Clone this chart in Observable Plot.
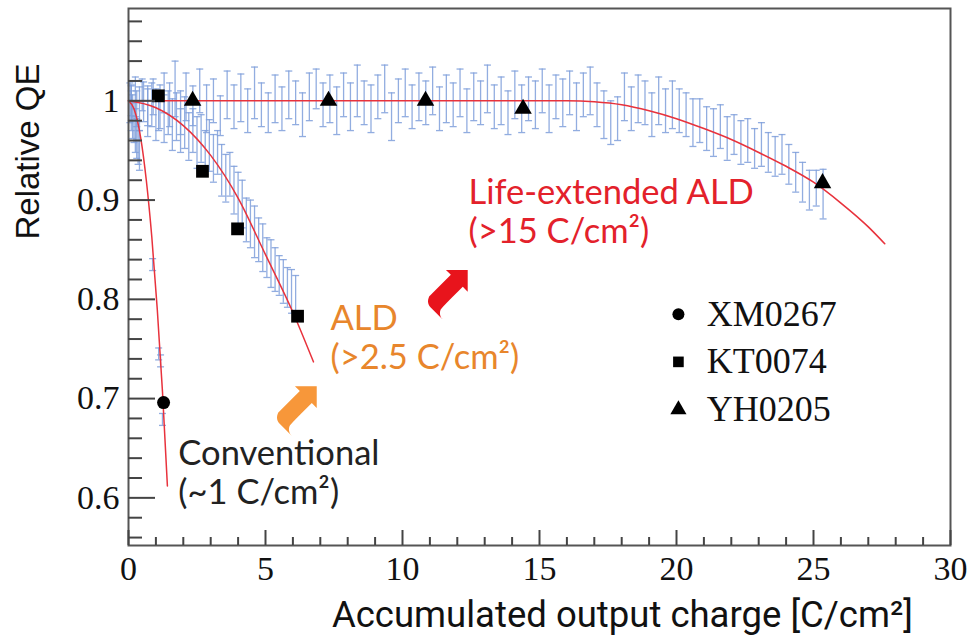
<!DOCTYPE html>
<html><head><meta charset="utf-8">
<script src="https://cdn.jsdelivr.net/npm/d3@7"></script>
<script src="https://cdn.jsdelivr.net/npm/@observablehq/plot@0.6"></script>
<style>body{margin:0;background:#fff} svg{display:block}</style>
</head><body><div id="chart"></div>
<script>
const yhX = [0.10,0.30,0.50,0.70,0.90,1.10,1.30,1.50,1.70,1.90,2.10,2.35,2.60,2.85,3.10,3.35,3.60,3.85,4.10,4.35,4.60,4.85,5.10,5.35,5.60,5.85,6.10,6.35,6.60,6.85,7.10,7.35,7.60,7.85,8.10,8.35,8.60,8.85,9.10,9.35,9.60,9.85,10.10,10.35,10.60,10.85,11.10,11.35,11.60,11.85,12.10,12.35,12.60,12.85,13.10,13.35,13.60,13.85,14.10,14.35,14.60,14.85,15.10,15.35,15.60,15.85,16.10,16.35,16.60,16.85,17.10,17.35,17.60,17.85,18.10,18.35,18.60,18.85,19.10,19.35,19.60,19.85,20.10,20.35,20.60,20.85,21.10,21.35,21.60,21.85,22.10,22.35,22.60,22.85,23.10,23.35,23.60,23.85,24.10,24.35,24.60,24.85,25.10,25.35];
const yhY = [1.000,0.992,1.006,0.995,1.004,0.990,1.008,0.996,1.012,0.988,1.004,0.995,1.010,0.992,1.000,0.985,1.006,0.994,1.003,0.990,1.008,0.996,0.988,1.002,0.992,1.006,0.998,0.986,1.004,1.012,0.996,1.002,0.990,1.006,0.994,1.010,0.998,0.992,1.004,1.012,0.984,1.000,1.008,0.994,1.004,0.998,1.010,0.992,1.002,0.996,1.008,0.990,1.004,0.998,1.012,0.994,1.000,0.988,1.006,0.992,1.002,0.996,1.010,0.992,1.004,0.998,1.008,0.994,1.006,1.010,0.996,0.986,0.978,0.982,1.004,0.992,1.002,0.998,0.986,1.000,0.990,0.996,0.990,0.986,0.978,0.980,0.972,0.968,0.974,0.962,0.966,0.958,0.960,0.952,0.956,0.948,0.944,0.946,0.936,0.928,0.918,0.910,0.912,0.906];
const yhE = [0.015,0.018,0.016,0.020,0.018,0.020,0.020,0.022,0.028,0.022,0.024,0.020,0.022,0.024,0.022,0.020,0.024,0.022,0.024,0.022,0.026,0.022,0.020,0.024,0.022,0.024,0.022,0.022,0.024,0.020,0.022,0.024,0.024,0.022,0.024,0.026,0.022,0.024,0.022,0.024,0.024,0.022,0.024,0.022,0.024,0.022,0.024,0.022,0.024,0.022,0.024,0.022,0.024,0.022,0.024,0.022,0.024,0.022,0.024,0.024,0.022,0.024,0.022,0.024,0.022,0.024,0.022,0.024,0.022,0.024,0.022,0.024,0.022,0.022,0.024,0.022,0.024,0.022,0.022,0.024,0.022,0.024,0.022,0.022,0.024,0.022,0.022,0.024,0.022,0.022,0.020,0.022,0.022,0.020,0.022,0.020,0.020,0.020,0.020,0.020,0.020,0.020,0.018,0.025];

const ktX = [0.10,0.25,0.40,0.55,0.70,0.85,1.00,1.15,1.30,1.45,1.60,1.75,1.90,2.05,2.20,2.35,2.50,2.65,2.80,2.95,3.10,3.25,3.40,3.55,3.70,3.85,4.00,4.15,4.30,4.45,4.60,4.75,4.90,5.05,5.20,5.35,5.50,5.65,5.80,5.95,6.10];
const ktY = [0.998,1.004,0.992,0.999,0.988,0.996,0.986,0.994,0.982,0.988,0.976,0.984,0.970,0.978,0.964,0.970,0.958,0.962,0.948,0.955,0.942,0.948,0.930,0.922,0.926,0.910,0.902,0.896,0.880,0.876,0.868,0.860,0.852,0.842,0.836,0.830,0.824,0.818,0.812,0.808,0.804];
const ktE = [0.018,0.020,0.022,0.020,0.024,0.022,0.026,0.022,0.024,0.022,0.026,0.024,0.022,0.026,0.024,0.022,0.026,0.024,0.022,0.026,0.024,0.022,0.026,0.024,0.022,0.024,0.026,0.024,0.022,0.024,0.026,0.022,0.024,0.020,0.024,0.022,0.020,0.022,0.020,0.022,0.020];

const xmX = [0.05,0.10,0.15,0.20,0.25,0.30,0.35,0.40,0.88,1.10,1.17,1.24];
const xmY = [0.998,0.990,0.984,0.978,0.970,0.962,0.958,0.950,0.835,0.745,0.738,0.679];
const xmE = [0.020,0.020,0.022,0.020,0.022,0.020,0.022,0.020,0.006,0.006,0.006,0.006];

// ---- fit curves ----
const convX = [0,0.2,0.45,0.65,0.85,1.05,1.24,1.42];
const convY = [1,0.992,0.962,0.92,0.863,0.79,0.707,0.612];
const aldX = [0,1,2,3,4,5,6,6.75];
const aldY = [1,0.993,0.975,0.945,0.902,0.845,0.787,0.737];
const lifeX = [0,16,17,18,19,20,21,22,23,24,25,26,27,27.6];
const lifeY = [1,1,0.999,0.996,0.99,0.982,0.972,0.961,0.948,0.934,0.918,0.897,0.873,0.856];

// ---- sample markers ----
const xmMarkX = [1.28], xmMarkY = [0.696];
const ktMarkX = [1.09,2.70,3.98,6.17], ktMarkY = [1.005,0.929,0.871,0.783];
const yhMarkX = [2.34,7.30,10.84,14.40,25.33], yhMarkY = [1.000,1.000,1.000,0.992,0.917];

// ---- legend ----
const legendNames = ["XM0267","KT0074","YH0205"];
const legendSymbols = ["circle","square","triangle"];
const legendX = [20.07,20.07,20.07];
const legendY = [0.785,0.737,0.689];
const legendTextX = [21.1,21.1,21.1];

// ---- annotations ----
const notes = ["Conventional\n(~1 C/cm²)","ALD\n(>2.5 C/cm²)","Life-extended ALD\n(>15 C/cm²)"];
const noteX = [1.82,7.37,12.41];
const noteY = [0.626,0.762,0.889];
const noteColors = ["#222222","#e8862c","#e3212b"];
const arrowX = [6.17,11.68];
const arrowY = [0.694,0.811];
const arrowColors = ["#f7973a","#e8141c"];

// ---- axis ticks ----
const xMajor = [0,5,10,15,20,25,30];
const xMinor = [1,2,3,4,6,7,8,9,11,12,13,14,16,17,18,19,21,22,23,24,26,27,28,29];
const yMajor = [0.6,0.7,0.8,0.9,1.0];
const yMinor = [0.56,0.58,0.62,0.64,0.66,0.68,0.72,0.74,0.76,0.78,0.82,0.84,0.86,0.88,0.92,0.94,0.96,0.98,1.02,1.04,1.06,1.08];

const xTitle = "Accumulated output charge [C/cm²]";
const yTitle = "Relative QE";

// ---- build tables ----
const tab = (X, Y, E) => X.map((x, i) => ({x, y: Y[i], e: E ? E[i] : 0}));
const yh = tab(yhX, yhY, yhE), kt = tab(ktX, ktY, ktE), xm = tab(xmX, xmY, xmE);
const errs = [...yh, ...kt, ...xm];
const conv = tab(convX, convY), ald = tab(aldX, aldY), life = tab(lifeX, lifeY);
const legend = legendNames.map((n, i) => ({n, s: legendSymbols[i], x: legendX[i], tx: legendTextX[i], y: legendY[i]}));
const noteData = notes.map((t, i) => ({t, x: noteX[i], y: noteY[i], c: noteColors[i]}));
const arrows = arrowX.map((x, i) => ({x, y: arrowY[i], c: arrowColors[i]}));

const W = 974, H = 640, ML = 128, MR = 24, MT = 8, MB = 95;
const FW = W - ML - MR, FH = H - MT - MB;
const blue = "#7f9fdb", red = "#e8323c";
const cap = {draw(ctx, size) { const w = Math.sqrt(size / Math.PI); ctx.moveTo(-w, 0); ctx.lineTo(w, 0); }};
const serif = "Liberation Serif, Times New Roman, serif";
const sans = "Lato, Open Sans, sans-serif";

const chart = Plot.plot({
  width: W, height: H,
  marginLeft: ML, marginRight: MR, marginTop: MT, marginBottom: MB,
  x: {domain: [0, 30], label: null},
  y: {domain: [0.552, 1.093], label: null},
  style: {background: "#fff"},
  marks: [
    // error bars
    Plot.ruleX(errs, {x: "x", y1: d => d.y - d.e, y2: d => d.y + d.e, stroke: blue, strokeWidth: 1.3, strokeOpacity: 0.85}),
    Plot.dot(errs, {x: "x", y: d => d.y + d.e, symbol: cap, r: 3.5, stroke: blue, strokeWidth: 1.3, strokeOpacity: 0.85}),
    Plot.dot(errs, {x: "x", y: d => d.y - d.e, symbol: cap, r: 3.5, stroke: blue, strokeWidth: 1.3, strokeOpacity: 0.85}),
    // fits
    Plot.line(life, {x: "x", y: "y", stroke: red, strokeWidth: 1.6, curve: "monotone-x"}),
    Plot.line(ald, {x: "x", y: "y", stroke: red, strokeWidth: 1.5, curve: "monotone-x"}),
    Plot.line(conv, {x: "x", y: "y", stroke: red, strokeWidth: 1.5, curve: "monotone-x"}),
    // markers
    Plot.dot(tab(xmMarkX, xmMarkY), {x: "x", y: "y", symbol: "circle", r: 6.5, fill: "#000"}),
    Plot.dot(tab(ktMarkX, ktMarkY), {x: "x", y: "y", symbol: "square", r: 7.2, fill: "#000"}),
    Plot.dot(tab(yhMarkX, yhMarkY), {x: "x", y: "y", symbol: "triangle", r: 6.5, fill: "#000"}),
    // frame and ticks
    Plot.frame({stroke: "#555", strokeWidth: 2}),
    Plot.tickY(yMajor, {y: d => d, insetRight: FW - 27, stroke: "#444", strokeWidth: 2}),
    Plot.tickY(yMinor, {y: d => d, insetRight: FW - 14, stroke: "#444", strokeWidth: 2}),
    Plot.tickX(xMajor, {x: d => d, insetTop: FH - 15, stroke: "#444", strokeWidth: 2}),
    Plot.tickX(xMinor, {x: d => d, insetTop: FH - 8, stroke: "#444", strokeWidth: 2}),
    Plot.axisX({ticks: xMajor, tickSize: 0, tickPadding: 10, fontSize: 34, fontFamily: serif, label: null, fill: "#111"}),
    Plot.axisY({ticks: yMajor, tickSize: 0, tickPadding: 9, fontSize: 34, fontFamily: serif, label: null, fill: "#111",
      tickFormat: d => d === 1 ? "1" : d.toFixed(1)}),
    // titles
    Plot.text([yTitle], {frameAnchor: "top-left", dx: -100, dy: 143, rotate: -90, textAnchor: "middle", lineAnchor: "middle",
      fontSize: 33, fontFamily: "Liberation Sans, Arial, sans-serif", fill: "#111"}),
    Plot.text([xTitle], {frameAnchor: "bottom-left", dx: 494, dy: 70, textAnchor: "middle", lineAnchor: "middle",
      fontSize: 36.5, fontFamily: "Roboto, sans-serif", fill: "#111"}),
    // annotations
    Plot.text(noteData, {x: "x", y: "y", text: "t", fill: "c", textAnchor: "start", lineAnchor: "middle", lineHeight: 1.13,
      fontSize: 34.5, fontFamily: sans}),
    Plot.text(arrows, {x: "x", y: "y", text: () => "➦", fill: "c", fontSize: 72, rotate: -45, fontFamily: "DejaVu Sans"}),
    // legend
    Plot.dot(legend, {x: "x", y: "y", symbol: "s", r: 6, fill: "#000"}),
    Plot.text(legend, {x: "tx", y: "y", text: "n", textAnchor: "start", lineAnchor: "middle", fontSize: 36, fontFamily: serif, fill: "#111"})
  ]
});
document.getElementById("chart").append(chart);
</script></body></html>
